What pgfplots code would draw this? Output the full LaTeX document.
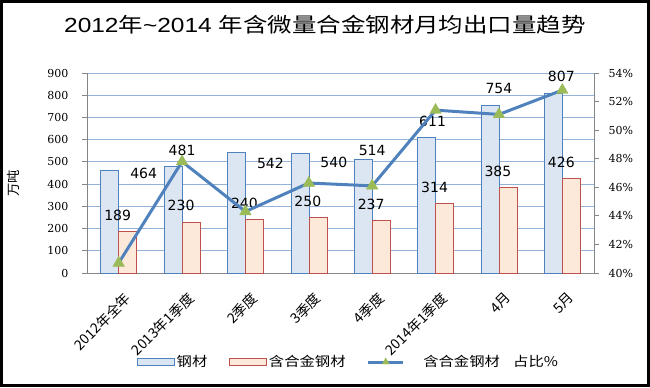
\documentclass[border=0pt]{standalone}
\usepackage{pgfplots}
\pgfplotsset{compat=1.18}
\usepackage{pgfplotstable}
\usepackage{fontspec}
\setmainfont{Liberation Sans}
\newfontfamily\cjk{Noto Sans CJK SC}
\newfontfamily\cjkw[FakeStretch=1.15]{Noto Sans CJK SC}
\newfontfamily\titlelat[FakeStretch=1.2]{Liberation Sans}
\newfontfamily\titlecjk[FakeStretch=1.2]{Noto Sans CJK SC}
\newfontfamily\serifnum{DejaVu Serif}
\newfontfamily\labelfont{DejaVu Sans}

\definecolor{steelfill}{HTML}{DCE6F2}
\definecolor{steeledge}{HTML}{4F81BD}
\definecolor{alloyfill}{HTML}{FDE9D9}
\definecolor{alloyedge}{HTML}{C0504D}
\definecolor{linecol}{HTML}{4F81BD}
\definecolor{markcol}{HTML}{9BBB59}
\definecolor{gridcol}{HTML}{95B3D7}
\definecolor{axiscol}{HTML}{868686}

\pgfplotstableread{
x steel alloy ratio sdx sdy
0 464 189 40.7 18.75 -3
1 481 230 47.8 0 12
2 542 240 44.3 18.75 -8
3 540 250 46.3 18.75 -7
4 514 237 46.1 0 6.5
5 611 314 51.4 -2.25 12
6 754 385 51.1 0 12.75
7 807 426 52.8 -0.75 13.25
}\datatable

\begin{document}
\begin{tikzpicture}[x=1pt,y=1pt]
\useasboundingbox (0,0) rectangle (487.5,290.25);
\draw[line width=2.25pt] (1.125,1.125) rectangle (486.375,289.125);
\node[anchor=base, font=\titlelat\fontsize{15.3}{18}\selectfont] at (243.75,266.25)
  {2012{\titlecjk 年}\textasciitilde 2014 {\titlecjk 年含微量合金钢材月均出口量趋势}};

\begin{axis}[
  at={(65.25pt,85.5pt)}, anchor=south west,
  scale only axis, width=380.25pt, height=150pt,
  xmin=-0.5, xmax=7.5, ymin=0, ymax=900,
  ytick={0,100,...,900},
  xtick={0,...,7},
  xticklabels={{2012年全年},{2013年1季度},{2季度},{3季度},{4季度},{2014年1季度},{4月},{5月}},
  xticklabel style={rotate=45, anchor=north east, yshift=-6pt, xshift=-1pt, font=\cjk\fontsize{10.5}{12}\selectfont},
  yticklabel style={xshift=-7pt, font=\serifnum\fontsize{8.25}{10}\selectfont},
  /pgf/number format/assume math mode=true,
  axis x line*=bottom, axis y line*=left,
  axis line style={axiscol, line width=0.6pt, -},
  tick align=outside,
  xtick style={draw=none},
  ytick style={axiscol, line width=0.6pt},
  major tick length=3.5pt,
  ymajorgrids, grid style={gridcol, line width=0.6pt},
  ylabel={\cjk 万吨},
  ylabel style={at={(axis description cs:-0.146,0.45)}, anchor=center, font=\fontsize{10}{12}\selectfont},
  legend style={draw=none, fill=none, at={(axis description cs:0.516,-0.445)}, anchor=center,
    font=\cjkw\fontsize{10}{12}\selectfont,
    /tikz/every even column/.append style={column sep=14pt}},
  legend columns=3,
]
\addplot[ybar, bar width=13.5pt, bar shift=-6.75pt, fill=steelfill, draw=steeledge, line width=0.4pt,
  visualization depends on={\thisrow{sdx} \as \sdx},
  visualization depends on={\thisrow{sdy} \as \sdy},
  nodes near coords,
  nodes near coords style={anchor=center, xshift=\sdx pt, yshift=\sdy pt, text=black, font=\labelfont\fontsize{10.5}{12}\selectfont},
  legend image code/.code={\draw[fill=steelfill, draw=steeledge, line width=0.4pt] (0pt,-2.6pt) rectangle (27.75pt,2.6pt);}]
  table[x=x, y=steel] {\datatable};
\addlegendentry{钢材}
\addplot[ybar, bar width=13.5pt, bar shift=6.75pt, fill=alloyfill, draw=alloyedge, line width=0.4pt,
  nodes near coords,
  nodes near coords style={anchor=center, xshift=-0.75pt, yshift=12pt, text=black, font=\labelfont\fontsize{10.5}{12}\selectfont},
  legend image code/.code={\draw[fill=alloyfill, draw=alloyedge, line width=0.4pt] (0pt,-2.6pt) rectangle (27.75pt,2.6pt);}]
  table[x=x, y=alloy] {\datatable};
\addlegendentry{含合金钢材}
\addlegendimage{linecol, line width=2.25pt,
  legend image code/.code={\draw[linecol, line width=2.25pt, mark=triangle*, mark size=3pt, mark options={fill=markcol, draw=markcol, line width=0.3pt}, mark repeat=2, mark phase=2] plot coordinates {(0pt,0pt) (13pt,0pt) (26pt,0pt)};}}
\addlegendentry{\hspace{12pt}含合金钢材\quad 占比\%}
\end{axis}

\begin{axis}[
  at={(65.25pt,85.5pt)}, anchor=south west,
  scale only axis, width=380.25pt, height=150pt,
  xmin=-0.5, xmax=7.5, ymin=40, ymax=54,
  ytick={40,42,...,54},
  axis y line*=right, axis x line=none,
  axis line style={axiscol, line width=0.6pt, -},
  tick align=outside,
  ytick style={axiscol, line width=0.6pt},
  major tick length=3.5pt,
  /pgf/number format/assume math mode=true,
  yticklabel={\pgfmathprintnumber{\tick}\%},
  yticklabel style={xshift=4pt, font=\serifnum\fontsize{8.25}{10}\selectfont},
]
\addplot[linecol, line width=2.25pt, mark=triangle*, mark size=5pt,
  mark options={fill=markcol, draw=markcol, line width=0.3pt}]
  table[x=x, y=ratio] {\datatable};
\end{axis}
\end{tikzpicture}
\end{document}
